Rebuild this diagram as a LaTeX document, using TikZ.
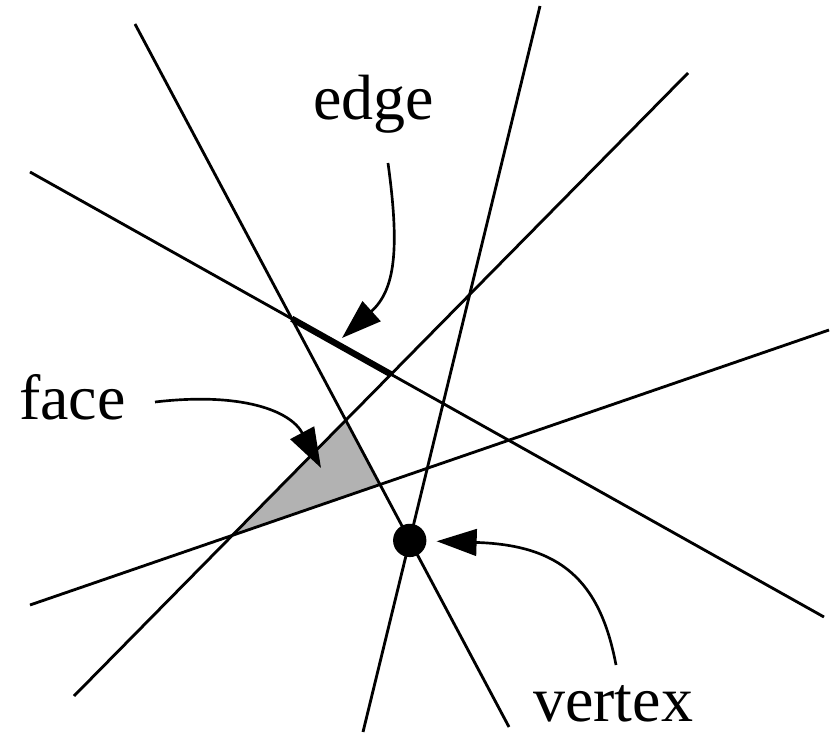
\documentclass[tikz,border=0pt]{standalone}
\usepackage{fontspec}
\setmainfont{Liberation Serif}
\usetikzlibrary{arrows.meta}

\begin{document}
\begin{tikzpicture}[
  x=0.03cm, y=-0.03cm,
  font=\fontsize{54.6}{60}\selectfont,
  recta/.style={line width=0.085cm},
  arista/.style={line width=0.19cm},
  cara/.style={fill=black!30},
  punto/.style={circle, fill=black, inner sep=0pt, minimum size=1cm},
  etiqueta/.style={inner sep=0pt, anchor=base west},
  flecha/.style={-{Triangle[length=1.2cm, width=0.8cm]}, line width=0.08cm}
]
\useasboundingbox (0,0) rectangle (831,733);
% extremos de las rectas
\coordinate (a1) at (135,24);  \coordinate (a2) at (509,727);
\coordinate (b1) at (540,6);   \coordinate (b2) at (363,732);
\coordinate (c1) at (30,172);  \coordinate (c2) at (824,617);
\coordinate (d1) at (688,73);  \coordinate (d2) at (74,696);
\coordinate (e1) at (30,605);  \coordinate (e2) at (829,330);
% cara sombreada
\fill[cara] (intersection of a1--a2 and d1--d2) -- (intersection of a1--a2 and e1--e2)
  -- (intersection of d1--d2 and e1--e2) -- cycle;
% rectas
\foreach \r in {a,b,c,d,e}
  \draw[recta] (\r1) -- (\r2);
% arista
\draw[arista] (intersection of a1--a2 and c1--c2) -- (intersection of d1--d2 and c1--c2);
% vertice
\node[punto] (vertice) at (intersection of a1--a2 and b1--b2) {};
% etiquetas
\node[etiqueta] (edge) at (313,120) {edge};
\node[etiqueta] (face) at (19,419) {face};
\node[etiqueta] (vertex) at (533,721) {vertex};
% flechas
\coordinate (fe) at (388,163); \coordinate (te) at (342,338);
\coordinate (ff) at (155,402); \coordinate (tf) at (321,468);
\coordinate (fv) at (616,665);
\draw[flecha] (fe) .. controls (400,250) and (395,290) .. (te);
\draw[flecha] (ff) .. controls (240,392) and (290,410) .. (tf);
\draw[flecha, shorten >=0.3cm] (fv) .. controls (600,580) and (560,545) .. (vertice);
\end{tikzpicture}
\end{document}
